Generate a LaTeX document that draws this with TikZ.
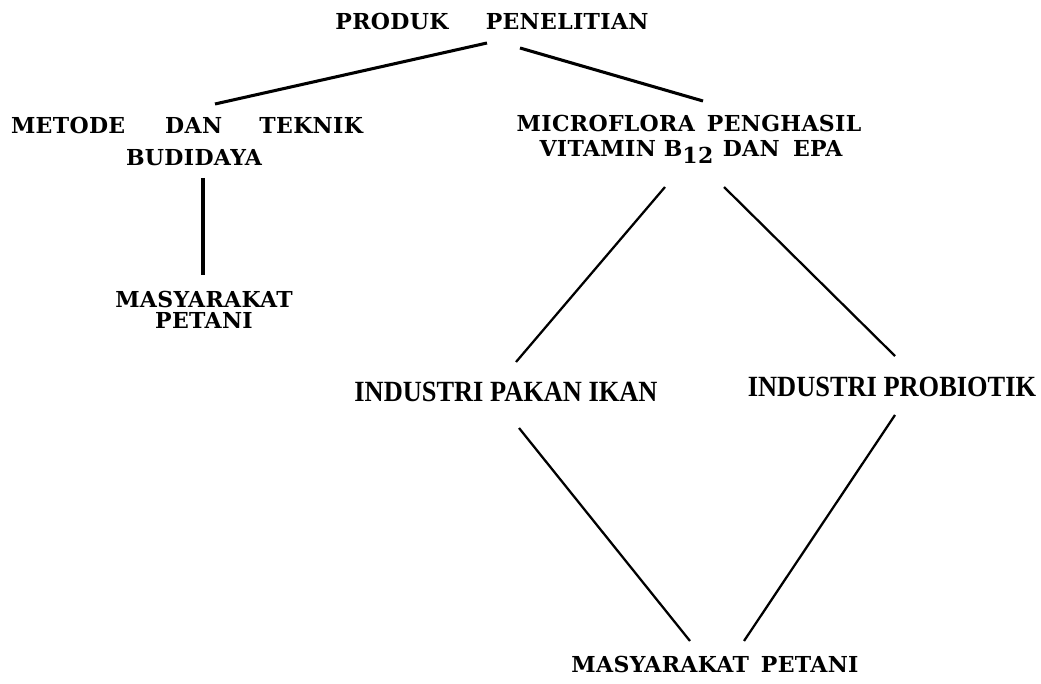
\documentclass[tikz,border=0pt]{standalone}
\usepackage{fontspec}
\setmainfont{DejaVu Serif}
\newfontfamily\lblfont[LetterSpace=1.5]{DejaVu Serif}
\newfontfamily\condfont[FakeStretch=0.9]{Liberation Serif}
\begin{document}
\begin{tikzpicture}[x=0.75pt,y=-0.75pt,
  lbl/.style={inner sep=0pt,font=\lblfont\bfseries\fontsize{16.5}{16}\selectfont,align=center},
  cond/.style={inner sep=0pt,font=\condfont\bfseries\fontsize{22}{24}\selectfont},
  thickline/.style={line width=2.3pt},
  thinline/.style={line width=1.7pt}]
\useasboundingbox (0,0) rectangle (1041,684);
% labels
\node[lbl] (top) at (492,21) {PRODUK\hspace{28pt}PENELITIAN};
\node[lbl] (metode) at (187,125) {METODE\hspace{30pt}DAN\hspace{28pt}TEKNIK};
\node[lbl] (budidaya) at (194,158) {BUDIDAYA};
\node[lbl] (mas1) at (204,310) {MASYARAKAT\\PETANI};
\node[lbl] (micro) at (689,123) {MICROFLORA\hspace{9pt}PENGHASIL};
\node[lbl] (vit) at (691,152) {VITAMIN\hspace{6pt}B\raisebox{-5pt}{12}\hspace{7pt}DAN\hspace{10pt}EPA};
\node[cond] (pakan) at (506,392) {INDUSTRI PAKAN IKAN};
\node[cond] (probio) at (892,387) {INDUSTRI PROBIOTIK};
\node[lbl] (mas2) at (715,664) {MASYARAKAT\hspace{9pt}PETANI};
% connector ends
\coordinate (t1) at (487,43);
\coordinate (t2) at (520,48);
\coordinate (m1) at (215,104);
\coordinate (mi1) at (703,101);
\coordinate (b1) at (203,178);
\coordinate (b2) at (203,275);
\coordinate (v1) at (665,187);
\coordinate (v2) at (724,187);
\coordinate (p1) at (516,362);
\coordinate (p2) at (519,428);
\coordinate (r1) at (895,356);
\coordinate (r2) at (895,415);
\coordinate (e1) at (690,641);
\coordinate (e2) at (744,641);
% connectors
\draw[thickline] (t1) -- (m1);
\draw[thickline] (t2) -- (mi1);
\draw[thickline] (b1) -- (b2);
\draw[thinline] (v1) -- (p1);
\draw[thinline] (v2) -- (r1);
\draw[thinline] (p2) -- (e1);
\draw[thinline] (r2) -- (e2);
\end{tikzpicture}
\end{document}
